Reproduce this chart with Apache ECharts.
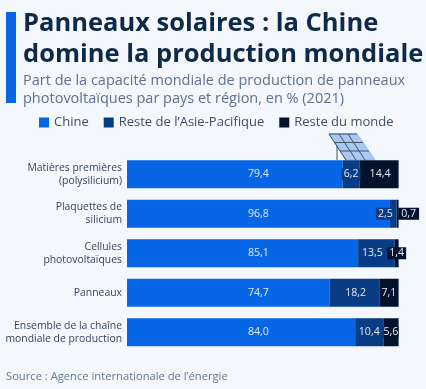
<!DOCTYPE html>
<html><head><meta charset="utf-8">
<style>html,body{margin:0;padding:0;background:#f4f7fb}#c{width:426px;height:389px}</style>
<script src="https://cdn.jsdelivr.net/npm/echarts@6/dist/echarts.min.js"></script>
</head><body><div id="c"></div>
<script>
const categories = ["Matières premières\n(polysilicium)","Plaquettes de\nsilicium","Cellules\nphotovoltaïques","Panneaux","Ensemble de la chaîne\nmondiale de production"];
const chine = [79.4,96.8,85.1,74.7,84.0];
const asie = [6.2,2.5,13.5,18.2,10.4];
const monde = [14.4,0.7,1.4,7.1,5.6];
const asieLabelShift = [0,-8,-4,1,0];
const mondeLabelShift = [1,11,0,0,0];
const asieLabelPad = [2,2,2,2,2];
const mondeLabelPad = [2,3,2,0,0];
const FONT = '"Open Sans"';
const colors = {chine:'#0666e6',asie:'#083c85',monde:'#03132e'};
const GRID_W = 271.6;
// The reference centres every Chine label on one common x, that of the longest bar.
const chineLabelShift = chine.map(v => (Math.max(...chine) - v) / 2 * GRID_W / 100);
const fmt = v => v.toFixed(1).replace('.',',');
const chart = echarts.init(document.getElementById('c'),null,{renderer:'canvas'});
function series(name,vals,color,shift,pad){
  return {name,type:'bar',stack:'t',barWidth:28,
    data:vals.map((v,i)=>({value:v,label:{offset:[shift?shift[i]:0,0],padding:pad?[1,pad[i],0,pad[i]]:0}})),
    itemStyle:{color},
    label:{show:true,position:'inside',color:'#e4ebf5',fontFamily:FONT,fontSize:10.6,
      backgroundColor:pad?color:'transparent',formatter:p=>fmt(p.value)}};
}
const panelLine = pts => ({type:'polyline',shape:{points:pts},style:{stroke:'#3f5268',fill:'none',lineWidth:1}});
chart.setOption({
  backgroundColor:'#f4f7fb',animation:false,
  title:[
   {text:'Panneaux solaires : la Chine\ndomine la production mondiale',left:23,top:8,padding:0,textStyle:{fontFamily:FONT,fontWeight:700,fontSize:25.5,lineHeight:31,color:'#0f2a48'}},
   {text:'Part de la capacité mondiale de production de panneaux\nphotovoltaïques par pays et région, en % (2021)',left:23,top:72,padding:0,textStyle:{fontFamily:FONT,fontWeight:400,fontSize:14.5,lineHeight:18,color:'#5b7290'}},
   {text:'Source : Agence internationale de l’énergie',left:6,top:371,padding:0,textStyle:{fontFamily:FONT,fontWeight:400,fontSize:11.2,color:'#64788f'}}
  ],
  legend:{left:39,top:116,itemWidth:10,itemHeight:10,itemGap:15,icon:'rect',padding:0,
    textStyle:{fontFamily:FONT,fontSize:13,color:'#3d5068'},data:['Chine','Reste de l’Asie-Pacifique','Reste du monde']},
  grid:{left:127,top:154.5,width:GRID_W,height:197.5,outerBoundsMode:'none'},
  xAxis:{type:'value',min:0,max:100,show:false},
  yAxis:{type:'category',inverse:true,data:categories,axisLine:{show:false},axisTick:{show:false},
    axisLabel:{margin:5,fontFamily:FONT,fontSize:10.4,lineHeight:13,color:'#33475f',align:'right'}},
  series:[series('Chine',chine,colors.chine,chineLabelShift),
    series('Reste de l’Asie-Pacifique',asie,colors.asie,asieLabelShift,asieLabelPad),
    series('Reste du monde',monde,colors.monde,mondeLabelShift,mondeLabelPad)],
  graphic:[
   {type:'rect',shape:{x:6,y:12,width:10,height:91},style:{fill:'#0666e6'}},
   {type:'polygon',shape:{points:[[329,134],[357,134],[375,160],[346,160]]},style:{fill:'#a9c8f2',stroke:'#8fb6ee',lineWidth:1}},
   panelLine([[329,134],[357,134]]),
   panelLine([[329,134],[346,160]]),
   panelLine([[339,134],[356,160]]),
   panelLine([[348,134],[365,160]]),
   panelLine([[334.5,142.5],[363,142.5]]),
   panelLine([[340,151],[369,151]]),
   panelLine([[337,146],[337,160]])
  ]
});
</script></body></html>
